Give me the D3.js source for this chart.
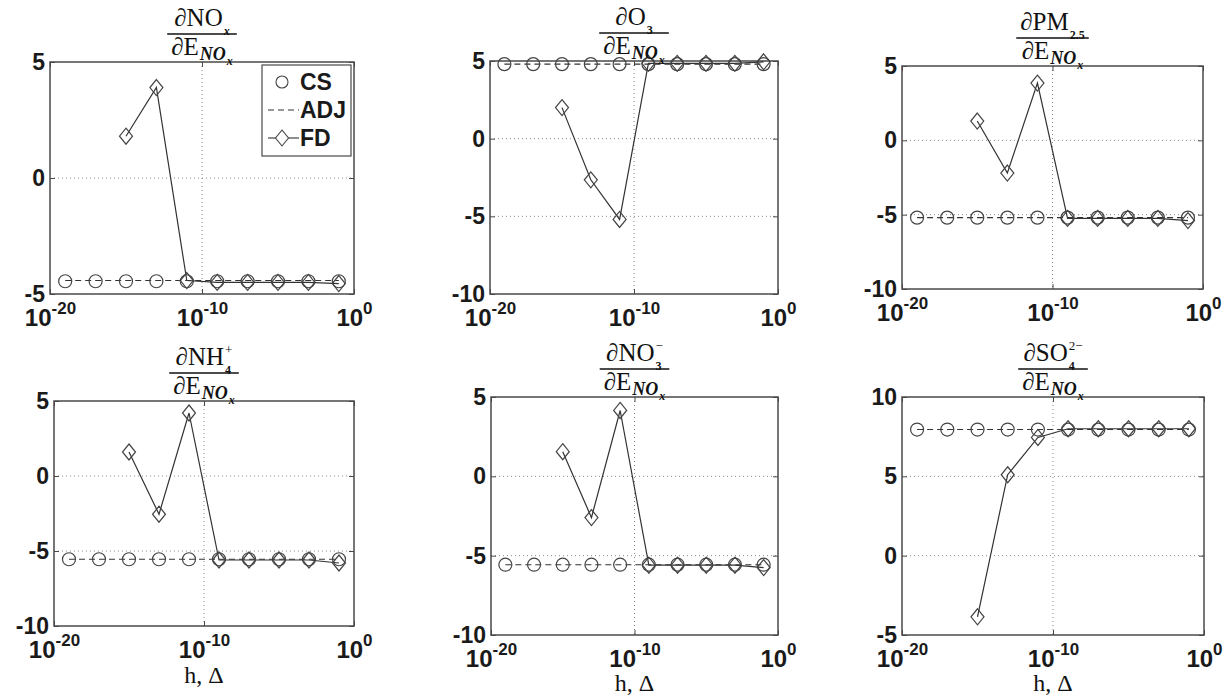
<!DOCTYPE html>
<html><head><meta charset="utf-8">
<script src="https://cdn.jsdelivr.net/npm/d3@7"></script>
<style>body{margin:0;background:#fff;} svg{display:block}</style>
</head><body><svg id="c" width="1228" height="696"></svg>
<script>
// ---------- data ----------
const hValues = [1e-19, 1e-17, 1e-15, 1e-13, 1e-11, 1e-9, 1e-7, 1e-5, 1e-3, 1e-1];
const xTickValues = [1e-20, 1e-10, 1e0];
const xTickExponents = ["-20", "-10", "0"];
const seriesNames = ["CS", "ADJ", "FD"];

const csNOx  = [-4.45, -4.45, -4.45, -4.45, -4.45, -4.45, -4.45, -4.45, -4.45, -4.45];
const adjNOx = [-4.42, -4.42, -4.42, -4.42, -4.42, -4.42, -4.42, -4.42, -4.42, -4.42];
const fdNOx  = [null, null, 1.8, 3.9, -4.42, -4.5, -4.5, -4.5, -4.5, -4.55];

const csO3  = [4.8, 4.8, 4.8, 4.8, 4.8, 4.8, 4.8, 4.8, 4.8, 4.8];
const adjO3 = [4.8, 4.8, 4.8, 4.8, 4.8, 4.8, 4.8, 4.8, 4.8, 4.8];
const fdO3  = [null, null, 2.0, -2.65, -5.2, 4.85, 4.85, 4.85, 4.85, 4.95];

const csPM  = [-5.2, -5.2, -5.2, -5.2, -5.2, -5.2, -5.2, -5.2, -5.2, -5.2];
const adjPM = [-5.2, -5.2, -5.2, -5.2, -5.2, -5.2, -5.2, -5.2, -5.2, -5.2];
const fdPM  = [null, null, 1.3, -2.2, 3.85, -5.25, -5.25, -5.25, -5.25, -5.4];

const csNH4  = [-5.55, -5.55, -5.55, -5.55, -5.55, -5.55, -5.55, -5.55, -5.55, -5.55];
const adjNH4 = [-5.55, -5.55, -5.55, -5.55, -5.55, -5.55, -5.55, -5.55, -5.55, -5.55];
const fdNH4  = [null, null, 1.6, -2.55, 4.2, -5.6, -5.6, -5.6, -5.6, -5.8];

const csNO3  = [-5.57, -5.57, -5.57, -5.57, -5.57, -5.57, -5.57, -5.57, -5.57, -5.57];
const adjNO3 = [-5.57, -5.57, -5.57, -5.57, -5.57, -5.57, -5.57, -5.57, -5.57, -5.57];
const fdNO3  = [null, null, 1.55, -2.6, 4.15, -5.6, -5.6, -5.6, -5.6, -5.75];

const csSO4  = [7.95, 7.95, 7.95, 7.95, 7.95, 7.95, 7.95, 7.95, 7.95, 7.95];
const adjSO4 = [7.95, 7.95, 7.95, 7.95, 7.95, 7.95, 7.95, 7.95, 7.95, 7.95];
const fdSO4  = [null, null, -3.85, 5.1, 7.45, 8.0, 8.0, 8.0, 8.0, 8.0];

const yTicksA = [-5, 0, 5];
const yTicksB = [-10, -5, 0, 5];
const yTicksC = [-5, 0, 5, 10];

// titles: numerator main / sub / sup ; denominator shared
const titleMain = ["∂NO", "∂O", "∂PM", "∂NH", "∂NO", "∂SO"];
const titleSub  = ["x", "3", "2.5", "4", "3", "4"];
const titleSup  = ["", "", "", "+", "−", "2−"];
const xLabelText = "h, Δ";

// ---------- layout ----------
const panels = [
  {x0: 50,  x1: 354,  y0: 62,  y1: 294, yDomain: [-5, 5],  yTicks: yTicksA, cs: csNOx, adj: adjNOx, fd: fdNOx, legend: true,  xlabel: false},
  {x0: 490, x1: 778,  y0: 61,  y1: 294, yDomain: [-10, 5], yTicks: yTicksB, cs: csO3,  adj: adjO3,  fd: fdO3,  legend: false, xlabel: false},
  {x0: 902, x1: 1203, y0: 66,  y1: 289, yDomain: [-10, 5], yTicks: yTicksB, cs: csPM,  adj: adjPM,  fd: fdPM,  legend: false, xlabel: false},
  {x0: 54,  x1: 354,  y0: 401, y1: 626, yDomain: [-10, 5], yTicks: yTicksB, cs: csNH4, adj: adjNH4, fd: fdNH4, legend: false, xlabel: true},
  {x0: 491, x1: 778,  y0: 397, y1: 635, yDomain: [-10, 5], yTicks: yTicksB, cs: csNO3, adj: adjNO3, fd: fdNO3, legend: false, xlabel: true},
  {x0: 902, x1: 1204, y0: 397, y1: 635, yDomain: [-5, 10], yTicks: yTicksC, cs: csSO4, adj: adjSO4, fd: fdSO4, legend: false, xlabel: true}
];

const svg = d3.select("#c");
const AX = "#4a4a4a", LN = "#333", MK = "#444";
const SANS = "'Liberation Sans', Arial, sans-serif";
const SERIF = "'Liberation Serif', 'Times New Roman', serif";
const diamond = "M0,-8L6.5,0L0,8L-6.5,0Z";

panels.forEach((p, i) => {
  const g = svg.append("g");
  const x = d3.scaleLog().domain([1e-20, 1]).range([p.x0, p.x1]);
  const y = d3.scaleLinear().domain(p.yDomain).range([p.y1, p.y0]);

  // grid (interior ticks)
  const gx = xTickValues.filter(v => v > 1e-20 && v < 1);
  const gy = p.yTicks.filter(v => v > p.yDomain[0] && v < p.yDomain[1]);
  g.selectAll(".gx").data(gx).join("line")
    .attr("x1", d => x(d)).attr("x2", d => x(d)).attr("y1", p.y0).attr("y2", p.y1)
    .attr("stroke", "#8a8a8a").attr("stroke-width", 1).attr("stroke-dasharray", "1,3");
  g.selectAll(".gy").data(gy).join("line")
    .attr("x1", p.x0).attr("x2", p.x1).attr("y1", d => y(d)).attr("y2", d => y(d))
    .attr("stroke", "#8a8a8a").attr("stroke-width", 1).attr("stroke-dasharray", "1,3");

  // axes (ticks inward) via d3 axes
  const left = g.append("g").attr("transform", `translate(${p.x0},0)`)
    .call(d3.axisLeft(y).tickValues(p.yTicks).tickSize(-5).tickSizeOuter(0).tickPadding(5).tickFormat(d => String(d)));
  left.select(".domain").remove();
  left.selectAll("line").attr("stroke", AX);
  left.selectAll("text").attr("font-family", SANS).attr("font-weight", "bold").attr("font-size", 23).attr("fill", "#1a1a1a");

  const right = g.append("g").attr("transform", `translate(${p.x1},0)`)
    .call(d3.axisRight(y).tickValues(p.yTicks).tickSize(-5).tickSizeOuter(0).tickFormat(""));
  right.select(".domain").remove();
  right.selectAll("line").attr("stroke", AX);

  const top = g.append("g").attr("transform", `translate(0,${p.y0})`)
    .call(d3.axisTop(x).tickValues(xTickValues).tickSize(-5).tickSizeOuter(0).tickFormat(""));
  top.select(".domain").remove();
  top.selectAll("line").attr("stroke", AX);

  const bottom = g.append("g").attr("transform", `translate(0,${p.y1})`)
    .call(d3.axisBottom(x).tickValues(xTickValues).tickSize(-5).tickSizeOuter(0).tickFormat(""));
  bottom.select(".domain").remove();
  bottom.selectAll("line").attr("stroke", AX);
  bottom.selectAll(".tick").each(function(d, k) {
    const t = d3.select(this).select("text")
      .attr("y", 32).attr("dy", null)
      .attr("font-family", SANS).attr("font-weight", "bold").attr("fill", "#1a1a1a")
      .attr("text-anchor", "middle");
    t.text(null);
    t.append("tspan").attr("font-size", 24).text("10");
    t.append("tspan").attr("font-size", 17).attr("dy", -12).text(xTickExponents[k]);
  });

  // box
  g.append("rect").attr("x", p.x0).attr("y", p.y0).attr("width", p.x1 - p.x0).attr("height", p.y1 - p.y0)
    .attr("fill", "none").attr("stroke", AX).attr("stroke-width", 1.5);

  const pts = key => hValues.map((h, k) => ({h, v: p[key][k]}));

  // ADJ dashed
  g.append("path").datum(pts("adj"))
    .attr("d", d3.line().x(d => x(d.h)).y(d => y(d.v)))
    .attr("fill", "none").attr("stroke", LN).attr("stroke-width", 1.1).attr("stroke-dasharray", "6,4");
  // CS circles
  g.selectAll(".cs").data(pts("cs")).join("circle")
    .attr("cx", d => x(d.h)).attr("cy", d => y(d.v)).attr("r", 6.5)
    .attr("fill", "none").attr("stroke", MK).attr("stroke-width", 1.2);
  // FD line + diamonds
  const fdPts = pts("fd").filter(d => d.v !== null);
  g.append("path").datum(pts("fd"))
    .attr("d", d3.line().defined(d => d.v !== null).x(d => x(d.h)).y(d => y(d.v)))
    .attr("fill", "none").attr("stroke", LN).attr("stroke-width", 1.2);
  g.selectAll(".fd").data(fdPts).join("path")
    .attr("transform", d => `translate(${x(d.h)},${y(d.v)})`).attr("d", diamond)
    .attr("fill", "none").attr("stroke", MK).attr("stroke-width", 1.2);

  // title fraction
  const cx = (p.x0 + p.x1) / 2, lineY = p.y0 - 28;
  const tg = g.append("g").attr("font-family", SERIF).attr("fill", "#111");
  const num = tg.append("g");
  const nm = num.append("text").attr("x", 0).attr("y", lineY - 8).attr("font-size", 25).text(titleMain[i]);
  const nw = nm.node().getComputedTextLength();
  let extra = 0;
  if (titleSub[i]) {
    const s = num.append("text").attr("x", nw + 1).attr("y", lineY + 1).attr("font-size", 12)
      .attr("font-style", titleSub[i] === "x" ? "italic" : "normal").attr("font-weight", "bold").text(titleSub[i]);
    extra = Math.max(extra, s.node().getComputedTextLength() + 1);
  }
  if (titleSup[i]) {
    const s = num.append("text").attr("x", nw + 1).attr("y", lineY - 19).attr("font-size", 13).text(titleSup[i]);
    extra = Math.max(extra, s.node().getComputedTextLength() + 1);
  }
  const numW = nw + extra;
  num.attr("transform", `translate(${cx - numW / 2},0)`);

  const den = tg.append("g");
  const dm = den.append("text").attr("x", 0).attr("y", lineY + 21).attr("font-size", 25).text("∂E");
  const dw = dm.node().getComputedTextLength();
  const ds = den.append("text").attr("x", dw + 1).attr("y", lineY + 26).attr("font-size", 18)
    .attr("font-style", "italic").attr("font-weight", "bold").text("NO");
  const dsw = ds.node().getComputedTextLength();
  const dss = den.append("text").attr("x", dw + dsw + 2).attr("y", lineY + 31).attr("font-size", 12)
    .attr("font-style", "italic").attr("font-weight", "bold").text("x");
  const denW = dw + dsw + 2 + dss.node().getComputedTextLength();
  den.attr("transform", `translate(${cx - denW / 2},0)`);

  const lw = Math.max(numW, denW) + 8;
  tg.append("line").attr("x1", cx - lw / 2).attr("x2", cx + lw / 2).attr("y1", lineY).attr("y2", lineY)
    .attr("stroke", "#111").attr("stroke-width", 1.6);

  // x label
  if (p.xlabel) {
    g.append("text").attr("x", cx).attr("y", Math.min(p.y1 + 57, 691)).attr("text-anchor", "middle")
      .attr("font-family", SERIF).attr("font-size", 24).attr("fill", "#111").text(xLabelText);
  }

  // legend
  if (p.legend) {
    const lg = g.append("g");
    lg.append("rect").attr("x", 262).attr("y", 65).attr("width", 89).attr("height", 91)
      .attr("fill", "#fff").attr("stroke", AX).attr("stroke-width", 1.2);
    const rows = [82, 110, 138];
    seriesNames.forEach((name, k) => {
      const ry = rows[k];
      if (name === "CS") {
        lg.append("circle").attr("cx", 282).attr("cy", ry).attr("r", 6).attr("fill", "none").attr("stroke", MK).attr("stroke-width", 1.1);
      } else if (name === "ADJ") {
        lg.append("line").attr("x1", 268).attr("x2", 299).attr("y1", ry).attr("y2", ry)
          .attr("stroke", LN).attr("stroke-dasharray", "6,4");
      } else {
        lg.append("line").attr("x1", 268).attr("x2", 299).attr("y1", ry).attr("y2", ry).attr("stroke", LN).attr("stroke-width", 1.1);
        lg.append("path").attr("transform", `translate(282,${ry})`).attr("d", diamond)
          .attr("fill", "#fff").attr("stroke", MK).attr("stroke-width", 1.1);
      }
      lg.append("text").attr("x", 300).attr("y", ry).attr("dy", "0.36em")
        .attr("font-family", SANS).attr("font-weight", "bold").attr("font-size", 23).attr("fill", "#1a1a1a").text(name);
    });
  }
});
</script>
</body></html>
